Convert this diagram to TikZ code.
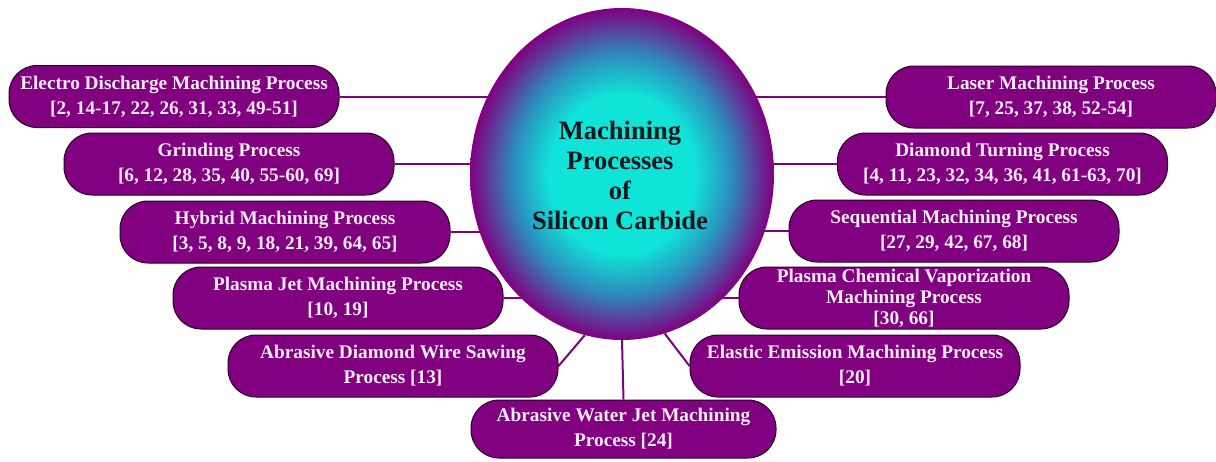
\documentclass[tikz,border=0pt]{standalone}
\usepackage{fontspec}
\setmainfont{Liberation Serif}
\usetikzlibrary{backgrounds,shapes.geometric}
\definecolor{boxpurple}{RGB}{128,0,128}
\definecolor{coreCyan}{RGB}{16,228,216}
\definecolor{midBlue}{RGB}{45,140,190}
\definecolor{boxtext}{RGB}{250,236,250}
\definecolor{titletext}{RGB}{15,25,30}
\definecolor{boxborder}{RGB}{40,0,40}
\pgfdeclareradialshading{sicball}{\pgfpoint{0bp}{0bp}}{color(0bp)=(coreCyan); color(12bp)=(coreCyan); color(18bp)=(midBlue); color(25bp)=(boxpurple); color(50bp)=(boxpurple)}
\tikzset{
  proc/.style={draw=boxborder, line width=1pt, fill=boxpurple, rounded corners=28pt,
    minimum width=330pt, minimum height=62pt, inner sep=0pt, align=center, text=boxtext,
    font=\bfseries\fontsize{19.3}{25}\selectfont},
  conn/.style={draw=boxpurple, line width=2pt},
  hub/.style={ellipse, shading=sicball, minimum width=304pt, minimum height=332pt, inner sep=0pt},
  hubtext/.style={align=center, text=titletext, font=\bfseries\fontsize{26.5}{30}\selectfont}
}
\begin{document}
\begin{tikzpicture}[x=1pt,y=-1pt]
\useasboundingbox (0,0) rectangle (1216,461);
\node[hub] (c) at (622,174) {};
\node[hubtext] (t) at (620,175) {Machining\\Processes\\of\\Silicon Carbide};

\node[proc] (b1) at (174,96.5) {Electro Discharge Machining Process\\{}[2, 14-17, 22, 26, 31, 33, 49-51]};
\node[proc] (b2) at (229,164) {Grinding Process\\{}[6, 12, 28, 35, 40, 55-60, 69]};
\node[proc] (b3) at (285,232) {Hybrid Machining Process\\{}[3, 5, 8, 9, 18, 21, 39, 64, 65]};
\node[proc] (b4) at (338,298) {Plasma Jet Machining Process\\{}[10, 19]};
\node[proc] (b5) at (393,366) {Abrasive Diamond Wire Sawing\\Process [13]};
\node[proc, minimum width=305pt, minimum height=58pt] (b6) at (623.5,429) {Abrasive Water Jet Machining\\Process [24]};
\node[proc] (b7) at (855,366) {Elastic Emission Machining Process\\{}[20]};
\node[proc, font=\bfseries\fontsize{19.3}{21}\selectfont] (b8) at (904,298) {Plasma Chemical Vaporization\\Machining Process\\{}[30, 66]};
\node[proc] (b9) at (954,231) {Sequential Machining Process\\{}[27, 29, 42, 67, 68]};
\node[proc] (b10) at (1002.5,164) {Diamond Turning Process\\{}[4, 11, 23, 32, 34, 36, 41, 61-63, 70]};
\node[proc] (b11) at (1051,97) {Laser Machining Process\\{}[7, 25, 37, 38, 52-54]};

\begin{pgfonlayer}{background}
\draw[conn] (b1.east) -- (b1.east -| c.center);
\draw[conn] (b2.east) -- (b2.east -| c.center);
\draw[conn] (b3.east) -- (b3.east -| c.center);
\draw[conn] (b4.east) -- (b4.east -| c.center);
\draw[conn] (b5.east) -- (c.257);
\draw[conn] (b6.north) -- (c.south);
\draw[conn] (b7.west) -- (c.285);
\draw[conn] (b8.west) -- (b8.west -| c.center);
\draw[conn] (b9.west) -- (b9.west -| c.center);
\draw[conn] (b10.west) -- (b10.west -| c.center);
\draw[conn] (b11.west) -- (b11.west -| c.center);
\end{pgfonlayer}
\end{tikzpicture}
\end{document}
